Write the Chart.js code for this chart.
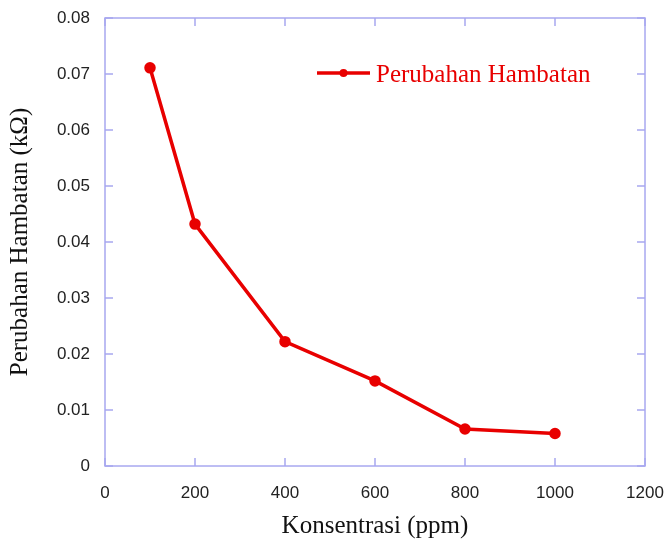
<!DOCTYPE html>
<html>
<head>
<meta charset="utf-8">
<script src="https://cdn.jsdelivr.net/npm/chart.js@4/dist/chart.umd.min.js"></script>
<style>
  html, body { margin: 0; padding: 0; background: #fff; }
  #wrap { width: 665px; height: 545px; }
</style>
</head>
<body>
<div id="wrap"><canvas id="chart" width="665" height="545"></canvas></div>
<script>
// Data
const konsentrasi = [100, 200, 400, 600, 800, 1000];
const perubahan = [0.0711, 0.0432, 0.0222, 0.0152, 0.0066, 0.0058];
const xTicks = [0, 200, 400, 600, 800, 1000, 1200];
const yTicks = [0, 0.01, 0.02, 0.03, 0.04, 0.05, 0.06, 0.07, 0.08];
const seriesLabel = "Perubahan Hambatan";

const axisColor = "#a8a8f0";
const red = "#e80000";

// frame + inward ticks on all four sides, plus legend inside the plot
const frameTicks = {
  id: "frameTicks",
  afterDraw(chart) {
    const { ctx, chartArea: a, scales } = chart;
    ctx.save();
    ctx.strokeStyle = axisColor;
    ctx.lineWidth = 1.5;
    ctx.strokeRect(a.left, a.top, a.right - a.left, a.bottom - a.top);
    const len = 8;
    ctx.beginPath();
    xTicks.forEach(v => {
      const px = scales.x.getPixelForValue(v);
      ctx.moveTo(px, a.bottom); ctx.lineTo(px, a.bottom - len);
      ctx.moveTo(px, a.top); ctx.lineTo(px, a.top + len);
    });
    yTicks.forEach(v => {
      const py = scales.y.getPixelForValue(v);
      ctx.moveTo(a.left, py); ctx.lineTo(a.left + len, py);
      ctx.moveTo(a.right, py); ctx.lineTo(a.right - len, py);
    });
    ctx.stroke();

    // legend
    const ly = 73;
    ctx.strokeStyle = red;
    ctx.lineWidth = 3.5;
    ctx.beginPath();
    ctx.moveTo(317, ly); ctx.lineTo(370, ly);
    ctx.stroke();
    ctx.fillStyle = red;
    ctx.beginPath();
    ctx.arc(343.5, ly, 4, 0, Math.PI * 2);
    ctx.fill();
    ctx.font = "25px 'Liberation Serif', 'Times New Roman', serif";
    ctx.textBaseline = "middle";
    ctx.fillText(seriesLabel, 376, ly + 2);
    ctx.restore();
  }
};

new Chart(document.getElementById("chart").getContext("2d"), {
  type: "scatter",
  data: {
    datasets: [{
      label: seriesLabel,
      data: konsentrasi.map((x, i) => ({ x, y: perubahan[i] })),
      showLine: true,
      borderColor: red,
      backgroundColor: red,
      borderWidth: 3.5,
      pointRadius: 4,
      pointHoverRadius: 4
    }]
  },
  options: {
    responsive: false,
    animation: false,
    layout: { padding: { left: 0, right: 20, top: 18, bottom: 0 } },
    plugins: { legend: { display: false }, tooltip: { enabled: false } },
    scales: {
      x: {
        type: "linear",
        min: 0, max: 1200,
        afterBuildTicks: s => { s.ticks = xTicks.map(v => ({ value: v })); },
        afterFit: s => {
          s.height = 79;
          s.paddingLeft = 0; s.paddingRight = 0;
        },
        grid: { display: false },
        border: { display: false },
        ticks: {
          color: "#222",
          padding: 9,
          callback: v => String(v),
          font: { family: "'Liberation Sans', Arial, sans-serif", size: 17 }
        },
        title: {
          display: true,
          text: "Konsentrasi (ppm)",
          color: "#111",
          padding: { top: 6 },
          font: { family: "'Liberation Serif', 'Times New Roman', serif", size: 25 }
        }
      },
      y: {
        type: "linear",
        min: 0, max: 0.08,
        afterBuildTicks: s => { s.ticks = yTicks.map(v => ({ value: v })); },
        afterFit: s => {
          s.width = 105;
          s.paddingTop = 0; s.paddingBottom = 0;
        },
        grid: { display: false },
        border: { display: false },
        ticks: {
          color: "#222",
          padding: 7,
          callback: v => v === 0 ? "0" : v.toFixed(2),
          font: { family: "'Liberation Sans', Arial, sans-serif", size: 17 }
        },
        title: {
          display: true,
          text: "Perubahan Hambatan (kΩ)",
          color: "#111",
          padding: { bottom: 0, top: 5 },
          font: { family: "'Liberation Serif', 'Times New Roman', serif", size: 25 }
        }
      }
    }
  },
  plugins: [frameTicks]
});
</script>
</body>
</html>
